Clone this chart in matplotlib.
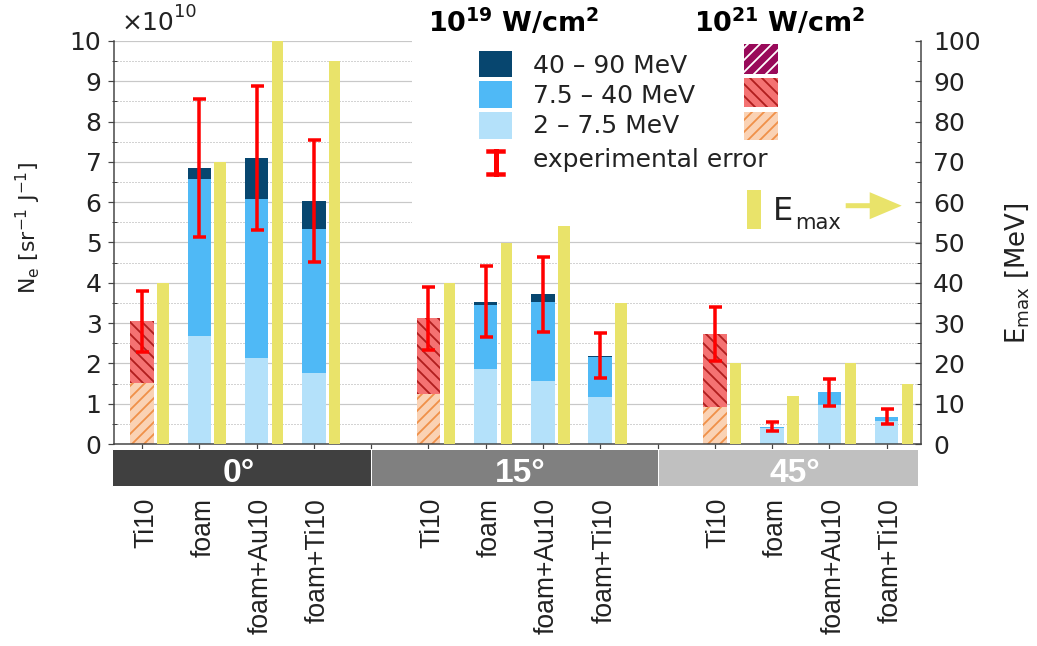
import numpy as np
import matplotlib
matplotlib.use('Agg')
import matplotlib.pyplot as plt
from matplotlib.patches import Rectangle, FancyArrow
from matplotlib.lines import Line2D
from matplotlib.transforms import Affine2D, blended_transform_factory, ScaledTranslation
from matplotlib.ticker import MultipleLocator

# ---------------- data ----------------
targets = ['Ti10', 'foam', 'foam+Au10', 'foam+Ti10']
angles = ['0°', '15°', '45°']
# laser intensity used for each bar (Ti10 measured at 1e21 W/cm2)
intensity = ['1e21', '1e19', '1e19', '1e19',
             '1e21', '1e19', '1e19', '1e19',
             '1e21', '1e19', '1e19', '1e19']
# electron numbers per energy band, in units of 1e10 sr^-1 J^-1
n_low = [1.52, 2.68, 2.13, 1.77, 1.23, 1.86, 1.56, 1.17, 0.93, 0.40, 0.98, 0.58]   # 2 - 7.5 MeV
n_mid = [1.53, 3.90, 3.96, 3.56, 1.89, 1.59, 1.97, 0.98, 1.79, 0.03, 0.32, 0.10]   # 7.5 - 40 MeV
n_high = [0.00, 0.28, 1.00, 0.71, 0.00, 0.07, 0.19, 0.03, 0.00, 0.00, 0.00, 0.00]  # 40 - 90 MeV
err_lo = [2.29, 5.13, 5.31, 4.52, 2.33, 2.65, 2.77, 1.63, 2.06, 0.33, 0.95, 0.50]
err_hi = [3.80, 8.56, 8.88, 7.54, 3.90, 4.42, 4.64, 2.75, 3.41, 0.55, 1.61, 0.86]
emax = [40, 70, 100, 95, 40, 50, 54, 35, 20, 12, 20, 15]  # MeV

# ---------------- style ----------------
W, H, DPI = 1037, 646, 72
C_DARK, C_MID, C_LIGHT = '#07466f', '#4fb9f6', '#b4e1fa'
C_RED, C_RED_H = '#f47272', '#b01e1e'
C_PEACH, C_PEACH_H = '#fad2b4', '#f09048'
C_PURPLE = '#990a5a'
C_YEL = '#e9e36a'
C_ERR = '#ff0000'
BAND_COLORS = ['#404040', '#808080', '#c0c0c0']
BAND_TEXT_SHIFT = [-0.05, 0.11, 0.12]
TXT = '#222222'

plt.rcParams['hatch.linewidth'] = 1.8
plt.rcParams['mathtext.default'] = 'regular'
plt.rcParams['font.family'] = ['DejaVu Sans']

fig = plt.figure(figsize=(W / DPI, H / DPI), dpi=DPI, facecolor='white')
T = Affine2D().scale(1, -1).translate(0, H)  # pixel coords, y from top

ax = fig.add_axes([114 / W, 1 - 444 / H, (921 - 114) / W, (444 - 41) / H])

# positions: 4 targets per angle, one empty slot between groups
pos = np.array([g * 5 + i for g in range(len(angles)) for i in range(len(targets))], dtype=float)
bw = 0.41
yw = 0.20
yoff = 0.365

low = np.array(n_low)
mid = np.array(n_mid)
high = np.array(n_high)
for k in range(len(pos)):
    if intensity[k] == '1e21':
        ax.bar(pos[k], low[k], bw, color=C_PEACH, edgecolor=C_PEACH_H, hatch='//', lw=0, zorder=2)
        ax.bar(pos[k], mid[k], bw, bottom=low[k], color=C_RED, edgecolor=C_RED_H, hatch='\\\\', lw=0, zorder=2)
        if high[k] > 0:
            ax.bar(pos[k], high[k], bw, bottom=low[k] + mid[k], color=C_PURPLE, edgecolor='white',
                   hatch='//', lw=0, zorder=2)
    else:
        ax.bar(pos[k], low[k], bw, color=C_LIGHT, lw=0, zorder=2)
        ax.bar(pos[k], mid[k], bw, bottom=low[k], color=C_MID, lw=0, zorder=2)
        if high[k] > 0:
            ax.bar(pos[k], high[k], bw, bottom=low[k] + mid[k], color=C_DARK, lw=0, zorder=2)

lo = np.array(err_lo)
hi = np.array(err_hi)
ax.errorbar(pos, (lo + hi) / 2, yerr=(hi - lo) / 2, fmt='none', ecolor=C_ERR,
            elinewidth=3.5, capsize=6.5, capthick=3.5, zorder=5)

ax.set_xlim(-0.489, 13.60)
ax.set_ylim(0, 10)

# white area behind the legend
ax.add_patch(Rectangle((4.71, 5.1), 13.60 - 4.71, 4.9, facecolor='white', lw=0, zorder=1))

ax.set_axisbelow(True)
ax.yaxis.set_major_locator(MultipleLocator(1))
ax.yaxis.set_minor_locator(MultipleLocator(0.5))
ax.yaxis.grid(True, which='major', color='#c8c8c8', lw=1.2)
ax.yaxis.grid(True, which='minor', color='#a8a8a8', ls=(0, (1, 2)), lw=1.0)

xt_labels = []
for g in range(len(angles)):
    xt_labels += targets
    if g < len(angles) - 1:
        xt_labels += ['']
ax.set_xticks(np.arange(len(xt_labels)))
ax.set_xticklabels(xt_labels, rotation=90, fontfamily='Liberation Sans', fontsize=26.5, color=TXT)
ax.tick_params(axis='x', direction='out', length=5, width=1.2, pad=49, color='#444444')
shift = ScaledTranslation(4 / DPI, 0, fig.dpi_scale_trans)
for lbl in ax.get_xticklabels():
    lbl.set_transform(lbl.get_transform() + shift)
ax.tick_params(axis='y', which='major', direction='out', length=6.5, width=1.2, pad=6,
               labelsize=25, labelcolor=TXT, color='#444444')
ax.tick_params(axis='y', which='minor', direction='inout', length=5, width=1.0, color='#444444')

for s in ['top', 'right']:
    ax.spines[s].set_visible(False)
for s in ['left', 'bottom']:
    ax.spines[s].set_color('#444444')
    ax.spines[s].set_linewidth(1.5)

# right axis with E_max
ax2 = ax.twinx()
ax2.bar(pos + yoff, emax, yw, color=C_YEL, lw=0, zorder=2)
ax2.set_ylim(0, 100)
ax2.yaxis.set_major_locator(MultipleLocator(10))
ax2.yaxis.set_minor_locator(MultipleLocator(5))
ax2.tick_params(axis='y', which='major', direction='in', length=6.5, width=1.2, pad=12,
                labelsize=25, labelcolor=TXT, color='#444444')
ax2.tick_params(axis='y', which='minor', direction='in', length=4.5, width=1.0, color='#444444')
for s in ['top', 'left', 'bottom']:
    ax2.spines[s].set_visible(False)
ax2.spines['right'].set_color('#444444')
ax2.spines['right'].set_linewidth(1.5)

# angle bands under the axis
btrans = blended_transform_factory(ax.transData, T)
for g, name in enumerate(angles):
    left = g * 5 - 1 if g > 0 else -0.53
    right = g * 5 + 4 if g < len(angles) - 1 else 13.54
    ax.add_patch(Rectangle((left, 449.3), right - left, 36.4, transform=btrans,
                           facecolor=BAND_COLORS[g], edgecolor='white', lw=1, clip_on=False))
    ax.text((left + right) / 2 + BAND_TEXT_SHIFT[g], 481.7, name, transform=btrans,
            ha='center', va='baseline', color='white', fontweight='bold',
            fontfamily='Liberation Sans', fontsize=33.5, clip_on=False)

# ---------------- legend / annotations (pixel coordinates) ----------------
fig.text(121.7, 30, '×10', transform=T, fontsize=25, va='baseline', ha='left', color=TXT)
fig.text(174, 16.7, '10', transform=T, fontsize=18, va='baseline', ha='left', color=TXT)

fig.text(514, 31.7, r'$\mathbf{10^{19}\ W/cm^{2}}$', transform=T, fontsize=27,
         ha='center', va='baseline', color='black')
fig.text(780, 31.7, r'$\mathbf{10^{21}\ W/cm^{2}}$', transform=T, fontsize=27,
         ha='center', va='baseline', color='black')

for (y0, y1), c in zip([(50.7, 77.3), (81.3, 108.3), (112.3, 139.0)], [C_DARK, C_MID, C_LIGHT]):
    fig.add_artist(Rectangle((479.3, y0), 32.4, y1 - y0, transform=T, facecolor=c, lw=0))
for (y0, y1), (fc, hc, hp) in zip([(44.0, 74.0), (78.3, 107.3), (111.7, 140.0)],
                                  [(C_PURPLE, 'white', '//'), (C_RED, C_RED_H, '\\\\'),
                                   (C_PEACH, C_PEACH_H, '//')]):
    fig.add_artist(Rectangle((744, y0), 34.3, y1 - y0, transform=T, facecolor=fc,
                             edgecolor=hc, hatch=hp, lw=0))

for yb, s in zip([72.7, 103.3, 133.3, 166.7],
                 ['40 – 90 MeV', '7.5 – 40 MeV', '2 – 7.5 MeV', 'experimental error']):
    fig.text(533.3, yb, s, transform=T, fontsize=25, va='baseline', ha='left', color=TXT)

# experimental error symbol
fig.add_artist(Line2D([495.7, 495.7], [151, 174], transform=T, color=C_ERR, lw=5))
fig.add_artist(Line2D([488.2, 503.2], [151, 151], transform=T, color=C_ERR, lw=4.5))
fig.add_artist(Line2D([488.2, 503.2], [174, 174], transform=T, color=C_ERR, lw=4.5))

# E_max legend entry and arrow
fig.add_artist(Rectangle((747.3, 190), 13.7, 39.3, transform=T, facecolor=C_YEL, lw=0))
fig.text(772.7, 220, 'E', transform=T, fontsize=32, va='baseline', ha='left', color=TXT)
fig.text(795, 229.3, 'max', transform=T, fontsize=21, va='baseline', ha='left', color=TXT)
fig.add_artist(FancyArrow(845.7, 205.7, 56, 0, width=5, head_width=27, head_length=32,
                          length_includes_head=True, transform=T, color=C_YEL, lw=0))

# axis titles
fig.text(28, 228, r'N$_{e}$ [sr$^{-1}$ J$^{-1}$]', transform=T, rotation=90, fontsize=22,
         ha='center', va='center', color=TXT)
fig.text(1017, 273, r'E$_{max}$ [MeV]', transform=T, rotation=90, fontsize=26,
         ha='center', va='center', color=TXT)

fig.savefig('out.png', dpi=DPI, facecolor='white')
